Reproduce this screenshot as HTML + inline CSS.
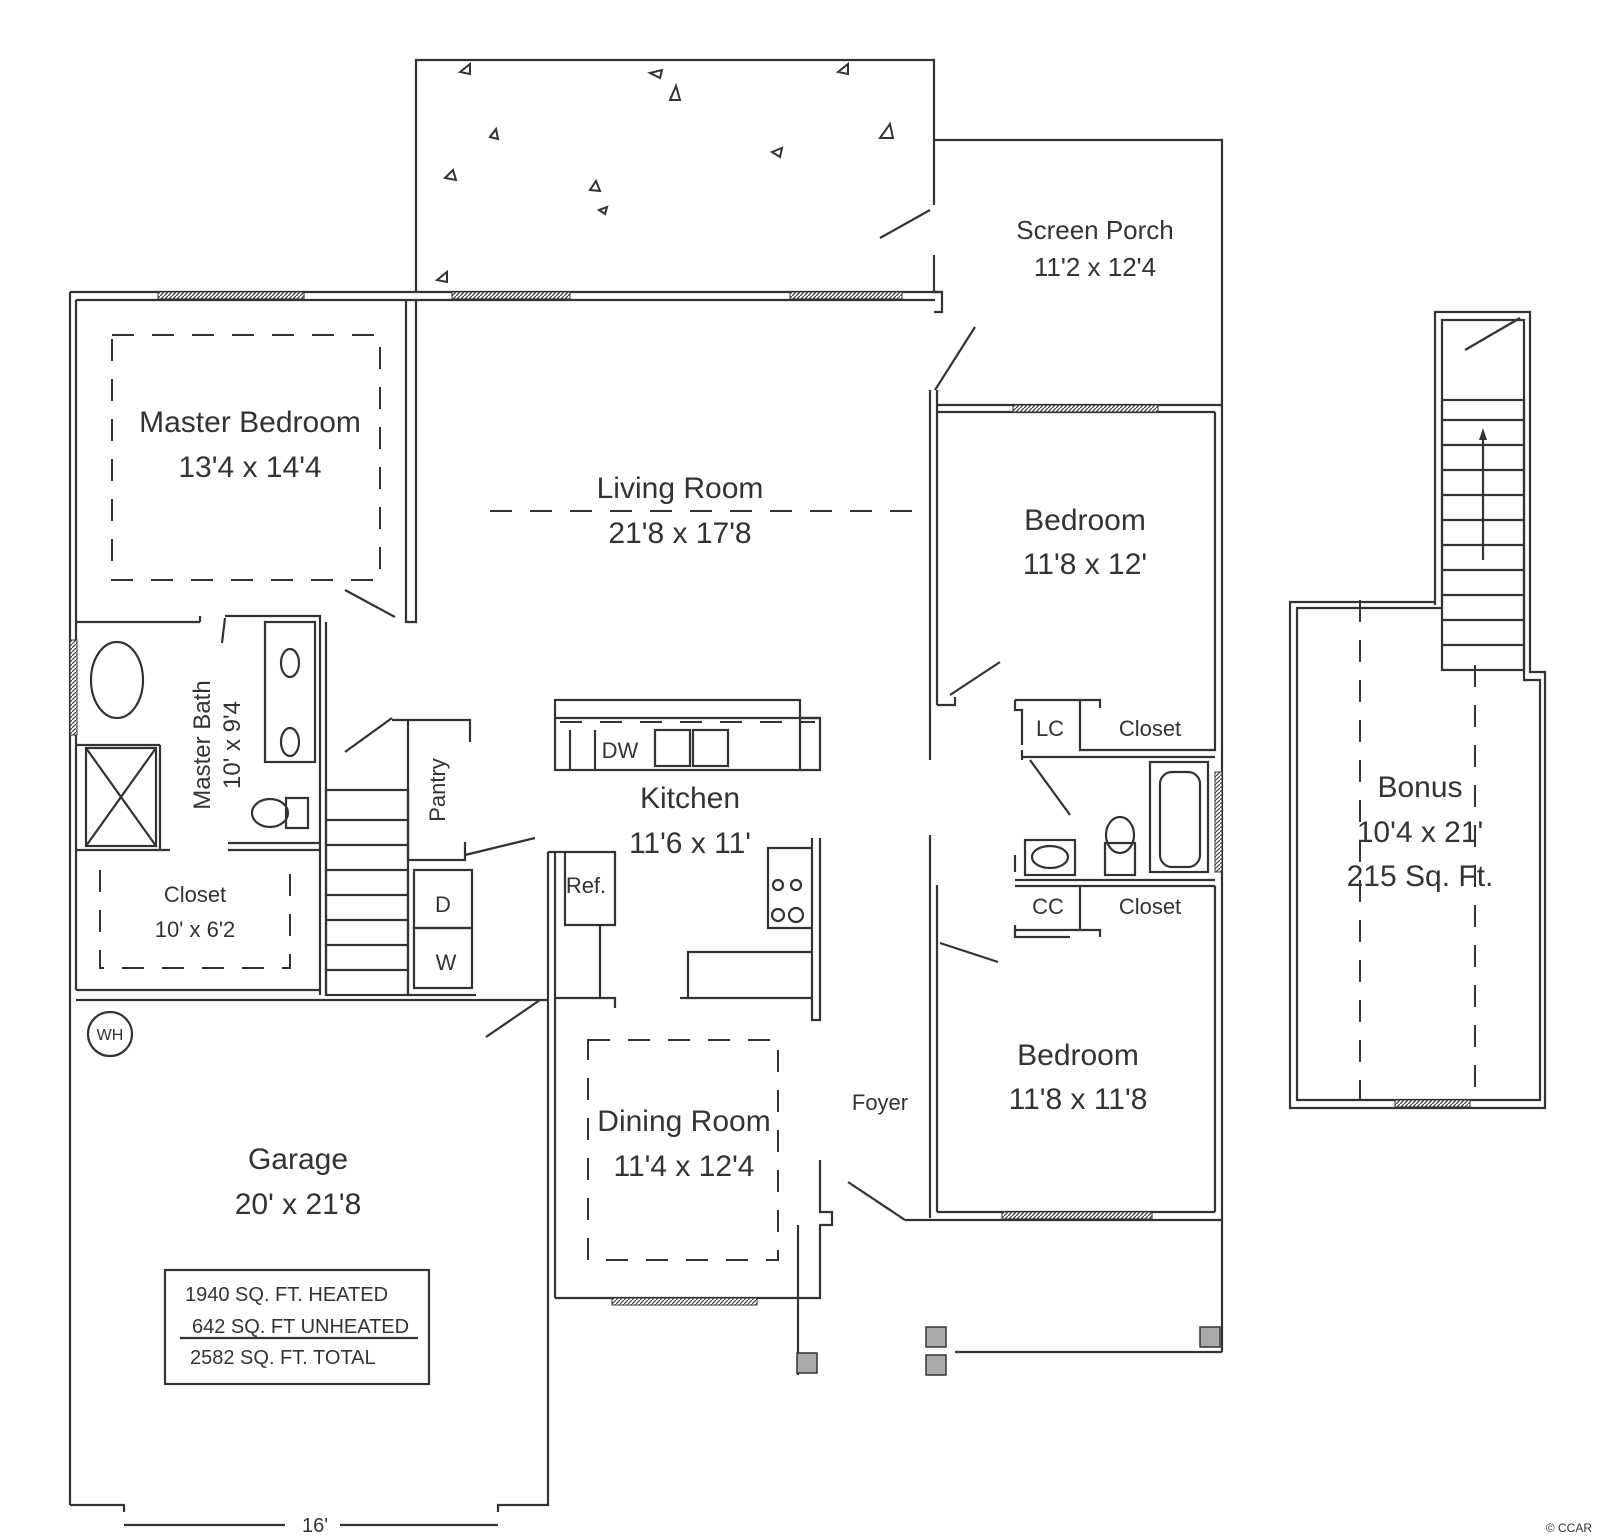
<!DOCTYPE html>
<html><head><meta charset="utf-8"><style>
html,body{margin:0;padding:0;background:#fff;}
svg{display:block;}
text{font-family:"Liberation Sans","DejaVu Sans",sans-serif;fill:#333;}
</style></head><body>
<svg width="1599" height="1536" viewBox="0 0 1599 1536" xmlns="http://www.w3.org/2000/svg">
<defs>
<pattern id="h" width="4" height="4" patternUnits="userSpaceOnUse"><rect width="4" height="4" fill="#fff"/><path d="M0 4L4 0" stroke="#444" stroke-width="1.2"/></pattern>
</defs>
<g stroke="#333" stroke-width="2.2" fill="none">
<polyline points="416,292 416,60 934,60 934,205"/>
<line x1="934" y1="255" x2="934" y2="292"/>
<line x1="880" y1="238" x2="930" y2="210"/>
<polyline points="934,140 1222,140 1222,405"/>
<polyline points="934,292 942,292 942,312 934,312"/>
<line x1="935" y1="390" x2="975" y2="327"/>
<line x1="70" y1="292" x2="942" y2="292"/>
<line x1="76" y1="300" x2="416" y2="300"/>
<line x1="416" y1="300" x2="935" y2="300"/>
<line x1="70" y1="292" x2="70" y2="1505"/>
<line x1="76" y1="300" x2="76" y2="990"/>
<polyline points="416,300 416,622 406,622 406,300"/>
<line x1="345" y1="590" x2="395" y2="617"/>
<line x1="76" y1="622" x2="200" y2="622"/>
<polyline points="225,616 320,616 320,860"/>
<line x1="326" y1="622" x2="326" y2="860"/>
<line x1="200" y1="622" x2="200" y2="616"/>
<line x1="76" y1="745" x2="160" y2="745"/>
<line x1="160" y1="745" x2="160" y2="850"/>
<line x1="76" y1="850" x2="170" y2="850"/>
<line x1="228" y1="850" x2="320" y2="850"/>
<line x1="228" y1="843" x2="320" y2="843"/>
<rect x="86" y="748" width="70" height="98"/>
<line x1="86" y1="748" x2="156" y2="846"/><line x1="156" y1="748" x2="86" y2="846"/>
<ellipse cx="117" cy="680" rx="26" ry="38"/>
<rect x="265" y="622" width="50" height="140"/>
<ellipse cx="290" cy="663" rx="9" ry="14"/><ellipse cx="290" cy="742" rx="9" ry="14"/>
<ellipse cx="270" cy="813" rx="18" ry="14"/><rect x="286" y="798" width="22" height="30"/>
<line x1="225" y1="618" x2="222" y2="643"/>
<line x1="345" y1="752" x2="392" y2="718"/>
<line x1="76" y1="990" x2="320" y2="990"/>
<line x1="320" y1="860" x2="320" y2="995"/>
<line x1="326" y1="860" x2="326" y2="995"/>
<rect x="326" y="790" width="82" height="205"/>
<line x1="326" y1="820" x2="408" y2="820"/><line x1="326" y1="845" x2="408" y2="845"/><line x1="326" y1="870" x2="408" y2="870"/><line x1="326" y1="895" x2="408" y2="895"/><line x1="326" y1="920" x2="408" y2="920"/><line x1="326" y1="945" x2="408" y2="945"/><line x1="326" y1="970" x2="408" y2="970"/>
<polyline points="392,720 470,720 470,742"/>
<polyline points="408,720 408,860 465,860 465,842"/>
<line x1="465" y1="855" x2="535" y2="838"/>
<rect x="414" y="870" width="58" height="58"/><rect x="414" y="928" width="58" height="60"/>
<polyline points="408,870 408,995 476,995"/>
<line x1="486" y1="1037" x2="540" y2="1000"/>
<line x1="76" y1="1000" x2="548" y2="1000"/>
<polyline points="548,852 548,1505 498,1505 498,1512"/>
<polyline points="70,1505 124,1505 124,1512"/>
<line x1="124" y1="1525" x2="285" y2="1525"/><line x1="340" y1="1525" x2="498" y2="1525"/>
<line x1="555" y1="852" x2="555" y2="1298"/>
<circle cx="110" cy="1034" r="22"/>
<rect x="165" y="1270" width="264" height="114"/>
<line x1="180" y1="1338" x2="418" y2="1338"/>
<rect x="555" y="700" width="245" height="70"/>
<line x1="555" y1="718" x2="820" y2="718"/>
<polyline points="800,718 820,718 820,770 800,770"/>
<rect x="655" y="730" width="35" height="36"/><rect x="693" y="730" width="35" height="36"/>
<line x1="595" y1="730" x2="595" y2="770"/><line x1="570" y1="730" x2="570" y2="770"/>
<polyline points="548,852 565,852 565,925 615,925 615,852 565,852"/>
<polyline points="555,998 615,998 615,1008"/>
<line x1="600" y1="925" x2="600" y2="998"/>
<polyline points="820,838 820,1020 812,1020 812,838"/>
<polyline points="812,848 768,848 768,928 812,928"/>
<polyline points="812,952 688,952 688,998 812,998"/>
<line x1="680" y1="998" x2="688" y2="998"/>
<circle cx="778" cy="885" r="5"/><circle cx="796" cy="885" r="5"/><circle cx="778" cy="915" r="6"/><circle cx="796" cy="915" r="7"/>
<polyline points="820,1160 820,1212 832,1212 832,1225 820,1225 820,1298 555,1298"/>
<line x1="848" y1="1182" x2="905" y2="1220"/>
<polyline points="798,1225 798,1375"/>
<line x1="955" y1="1352" x2="1222" y2="1352"/>
<line x1="1222" y1="1352" x2="1222" y2="1218"/>
<line x1="905" y1="1220" x2="1222" y2="1220"/>
<line x1="930" y1="390" x2="930" y2="760"/><line x1="937" y1="390" x2="937" y2="705"/>
<line x1="937" y1="412" x2="1215" y2="412"/><line x1="937" y1="405" x2="1222" y2="405"/>
<line x1="1215" y1="412" x2="1215" y2="700"/><line x1="1222" y1="405" x2="1222" y2="1220"/>
<polyline points="937,705 955,705 955,697"/>
<line x1="950" y1="695" x2="1000" y2="662"/>
<polyline points="1015,700 1100,700 1100,708"/>
<polyline points="1015,700 1015,710 1022,710 1022,745"/>
<polyline points="1080,700 1080,750 1215,750 1215,700"/>
<line x1="1022" y1="750" x2="1022" y2="760"/>
<polyline points="1022,757 1215,757"/>
<line x1="1030" y1="760" x2="1070" y2="815"/>
<rect x="1150" y="762" width="58" height="110"/><rect x="1160" y="772" width="40" height="95" rx="12"/>
<rect x="1025" y="840" width="50" height="35"/><ellipse cx="1050" cy="857" rx="18" ry="11"/>
<rect x="1105" y="843" width="30" height="32"/><ellipse cx="1120" cy="835" rx="14" ry="18"/>
<line x1="1015" y1="872" x2="1015" y2="855"/>
<line x1="1015" y1="880" x2="1215" y2="880"/><line x1="1015" y1="886" x2="1215" y2="886"/>
<polyline points="1015,930 1100,930 1100,937"/>
<line x1="1080" y1="886" x2="1080" y2="930"/>
<polyline points="1015,925 1015,937 1070,937"/>
<line x1="1215" y1="886" x2="1215" y2="1212"/>
<line x1="930" y1="835" x2="930" y2="1218"/><line x1="937" y1="885" x2="937" y2="1212"/>
<line x1="937" y1="1212" x2="1215" y2="1212"/>
<line x1="940" y1="943" x2="998" y2="962"/>
<polyline points="1435,605 1435,312 1530,312 1530,672 1545,672 1545,1108 1290,1108 1290,602 1435,602"/>
<polyline points="1442,605 1442,320 1524,320 1524,680 1540,680 1540,1100 1297,1100 1297,608 1442,608"/>
<line x1="1465" y1="350" x2="1520" y2="318"/>
<rect x="1442" y="400" width="82" height="270"/>
<line x1="1442" y1="420" x2="1524" y2="420"/><line x1="1442" y1="445" x2="1524" y2="445"/><line x1="1442" y1="470" x2="1524" y2="470"/><line x1="1442" y1="495" x2="1524" y2="495"/><line x1="1442" y1="520" x2="1524" y2="520"/><line x1="1442" y1="545" x2="1524" y2="545"/><line x1="1442" y1="570" x2="1524" y2="570"/><line x1="1442" y1="595" x2="1524" y2="595"/><line x1="1442" y1="620" x2="1524" y2="620"/><line x1="1442" y1="645" x2="1524" y2="645"/>
<line x1="1483" y1="440" x2="1483" y2="560"/>
</g>
<path d="M1479 440 L1483 428 L1487 440Z" fill="#333"/>
<g stroke="#333" stroke-width="2" fill="none" stroke-dasharray="22,18">
<rect x="112" y="335" width="268" height="245"/>
<line x1="490" y1="511" x2="930" y2="511"/>
<polyline points="100,870 100,968 290,968 290,860"/>
<rect x="588" y="1040" width="190" height="220"/>
<line x1="1360" y1="600" x2="1360" y2="1100"/>
<line x1="1475" y1="665" x2="1475" y2="1100"/>
<line x1="560" y1="722" x2="815" y2="722"/>
</g>
<g fill="url(#h)" stroke="#333" stroke-width="1">
<rect x="158" y="292" width="146" height="7"/><rect x="452" y="292" width="118" height="7"/><rect x="790" y="292" width="112" height="7"/>
<rect x="70" y="640" width="7" height="95"/><rect x="1013" y="405" width="145" height="7"/><rect x="1215" y="772" width="7" height="100"/>
<rect x="1002" y="1212" width="150" height="7"/><rect x="612" y="1298" width="145" height="7"/><rect x="1395" y="1100" width="75" height="7"/>
</g>
<g fill="#aaa" stroke="#333" stroke-width="1.5">
<rect x="797" y="1353" width="20" height="20"/><rect x="926" y="1327" width="20" height="20"/><rect x="926" y="1355" width="20" height="20"/><rect x="1200" y="1327" width="20" height="20"/>
</g>
<g fill="none" stroke="#333" stroke-width="2">
<path d="M460 72l10-8 0 10z"/><path d="M650 73l12-3-2 8z"/><path d="M670 100l6-14 4 14z"/><path d="M838 72l10-8 0 10z"/><path d="M490 137l6-8 2 10z"/><path d="M880 138l10-14 3 14z"/><path d="M772 152l10-4-2 9z"/><path d="M445 178l8-8 3 10z"/><path d="M590 190l6-9 4 10z"/><path d="M605 214l-6-4 8-3z"/><path d="M437 280l10-8 0 10z"/>
</g>
<g text-anchor="middle">
<text x="1095" y="239" font-size="26">Screen Porch</text><text x="1095" y="276" font-size="26">11'2 x 12'4</text>
<text x="250" y="432" font-size="30">Master Bedroom</text><text x="250" y="477" font-size="30">13'4 x 14'4</text>
<text x="680" y="498" font-size="30">Living Room</text><text x="680" y="543" font-size="30">21'8 x 17'8</text>
<text x="1085" y="530" font-size="30">Bedroom</text><text x="1085" y="574" font-size="30">11'8 x 12'</text>
<text x="690" y="808" font-size="30">Kitchen</text><text x="690" y="853" font-size="30">11'6 x 11'</text>
<text x="620" y="758" font-size="22">DW</text>
<text x="586" y="893" font-size="22">Ref.</text>
<text x="443" y="912" font-size="22">D</text><text x="446" y="970" font-size="22">W</text>
<text x="195" y="902" font-size="22">Closet</text><text x="195" y="937" font-size="22">10' x 6'2</text>
<text x="1050" y="736" font-size="22">LC</text><text x="1150" y="736" font-size="22">Closet</text>
<text x="1048" y="914" font-size="22">CC</text><text x="1150" y="914" font-size="22">Closet</text>
<text x="1420" y="797" font-size="30">Bonus</text><text x="1420" y="842" font-size="30">10'4 x 21'</text><text x="1420" y="886" font-size="30">215 Sq. Ft.</text>
<text x="1078" y="1065" font-size="30">Bedroom</text><text x="1078" y="1109" font-size="30">11'8 x 11'8</text>
<text x="880" y="1110" font-size="22">Foyer</text>
<text x="684" y="1131" font-size="30">Dining Room</text><text x="684" y="1176" font-size="30">11'4 x 12'4</text>
<text x="298" y="1169" font-size="30">Garage</text><text x="298" y="1214" font-size="30">20' x 21'8</text>
<text x="110" y="1040" font-size="16" font-family="Liberation Serif">WH</text>
<text x="315" y="1532" font-size="20">16'</text>
</g>
<text x="185" y="1301" font-size="20">1940 SQ. FT. HEATED</text>
<text x="192" y="1333" font-size="20">642  SQ. FT UNHEATED</text>
<text x="190" y="1364" font-size="20">2582 SQ. FT. TOTAL</text>
<text x="210" y="745" font-size="24" transform="rotate(-90 210 745)" text-anchor="middle">Master Bath</text>
<text x="240" y="745" font-size="24" transform="rotate(-90 240 745)" text-anchor="middle">10' x 9'4</text>
<text x="445" y="790" font-size="22" transform="rotate(-90 445 790)" text-anchor="middle">Pantry</text>
<text x="1592" y="1532" font-size="12" text-anchor="end">© CCAR</text>
</svg>
</body></html>
